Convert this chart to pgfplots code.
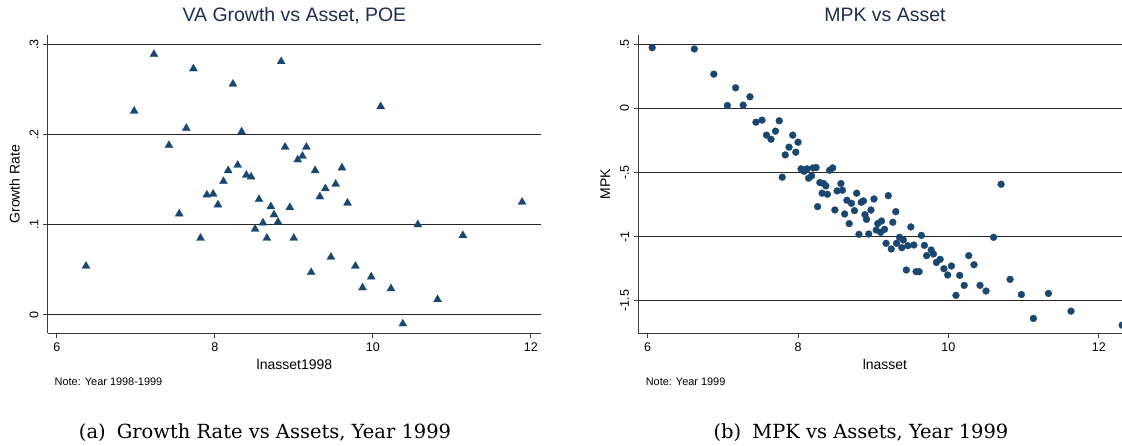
\documentclass[border=0pt]{standalone}
\usepackage{fontspec}
\usepackage{pgfplots}
\pgfplotsset{compat=1.18}
\newfontfamily\arial{Liberation Sans}
\newfontfamily\capfont{DejaVu Serif}
\definecolor{statanavy}{RGB}{26,71,111}
\definecolor{titlecol}{RGB}{30,45,80}
\definecolor{axcol}{RGB}{60,60,60}

\pgfplotsset{
  statapanel/.style={
    scale only axis,
    width=370pt, height=223.7pt,
    axis lines*=left,
    axis line style={axcol, line width=0.75pt, -},
    tick align=outside,
    major tick length=3.4pt,
    every tick/.style={axcol, line width=0.75pt},
    ymajorgrids,
    grid style={black!85, line width=0.6pt},
    tick label style={font=\arial\fontsize{9.4}{11}\selectfont},
    yticklabel style={rotate=90, anchor=south},
    xtick={6,8,10,12}, xticklabels={6,8,10,12},
    title style={at={(axis description cs:0.5,1)}, anchor=base, yshift=4.5pt,
      font=\arial\fontsize{14.6}{17}\selectfont, text=titlecol},
    every axis x label/.style={at={(axis description cs:0.5,0)}, yshift=-23pt,
      anchor=center, font=\arial\fontsize{10.5}{12}\selectfont},
    every axis y label/.style={at={(axis description cs:0,0.5)}, xshift=-24.8pt,
      rotate=90, anchor=center, font=\arial\fontsize{10.5}{12}\selectfont},
  }
}

\pgfplotstableread{
x y
7.23 0.289
7.73 0.273
8.23 0.256
8.84 0.281
6.98 0.226
10.10 0.231
7.64 0.207
8.34 0.203
7.42 0.188
8.89 0.186
9.16 0.186
9.05 0.172
9.11 0.176
8.29 0.166
8.17 0.160
9.27 0.160
9.61 0.163
8.40 0.155
8.46 0.153
8.11 0.148
9.40 0.140
9.53 0.145
7.90 0.133
7.98 0.134
9.33 0.131
7.55 0.112
8.04 0.122
8.56 0.128
8.71 0.120
8.75 0.111
8.95 0.119
9.68 0.124
11.89 0.125
8.61 0.102
8.80 0.103
10.57 0.100
8.51 0.095
7.82 0.085
8.66 0.085
9.00 0.085
11.14 0.088
6.37 0.054
9.47 0.064
9.78 0.054
9.22 0.047
9.98 0.042
9.87 0.030
10.23 0.029
10.82 0.017
10.38 -0.010
}\growthdata

\pgfplotstableread{
x y
6.06 0.474
6.62 0.464
6.88 0.268
7.17 0.161
7.06 0.023
7.27 0.026
7.36 0.091
7.44 -0.107
7.52 -0.091
7.75 -0.096
7.58 -0.208
7.64 -0.240
7.70 -0.177
7.93 -0.208
8.00 -0.263
7.88 -0.302
7.97 -0.341
7.83 -0.362
7.79 -0.536
8.04 -0.471
8.08 -0.490
8.12 -0.471
8.20 -0.464
8.24 -0.461
8.14 -0.544
8.18 -0.526
8.42 -0.482
8.46 -0.464
8.29 -0.578
8.34 -0.586
8.37 -0.604
8.57 -0.586
10.70 -0.591
8.32 -0.661
8.39 -0.669
8.52 -0.643
8.59 -0.638
8.78 -0.661
9.20 -0.680
9.01 -0.706
8.87 -0.721
8.65 -0.716
8.26 -0.766
8.49 -0.792
8.71 -0.740
8.75 -0.797
8.84 -0.732
8.62 -0.823
8.89 -0.828
8.91 -0.865
8.97 -0.792
9.30 -0.805
8.68 -0.898
9.06 -0.898
9.11 -0.878
9.26 -0.888
9.04 -0.948
9.10 -0.966
9.15 -0.943
9.50 -0.924
8.81 -0.982
8.94 -0.979
9.64 -0.990
9.35 -1.005
9.40 -1.026
9.17 -1.052
9.31 -1.052
9.38 -1.086
9.24 -1.096
9.46 -1.070
9.54 -1.065
9.68 -1.068
9.77 -1.104
9.80 -1.135
9.71 -1.148
9.89 -1.177
9.84 -1.201
10.27 -1.148
10.34 -1.219
10.04 -1.229
9.94 -1.250
9.44 -1.260
9.57 -1.273
9.61 -1.273
9.99 -1.299
10.15 -1.302
10.60 -1.005
10.21 -1.380
10.42 -1.380
10.50 -1.424
10.10 -1.458
10.82 -1.333
10.97 -1.451
11.33 -1.443
11.13 -1.638
11.63 -1.581
12.31 -1.690
}\mpkdata

\begin{document}
\begin{tikzpicture}
\useasboundingbox (0,0) rectangle (841.5pt,334.5pt);

\begin{axis}[statapanel,
  at={(35.8pt,84.5pt)}, anchor=south west,
  xmin=5.886, xmax=12.13, ymin=-0.0206, ymax=0.3103,
  ytick={0,0.1,0.2,0.3}, yticklabels={0,.1,.2,.3},
  title={VA Growth vs Asset, POE},
  xlabel={lnasset1998}, ylabel={Growth Rate}]
\addplot[only marks, mark=triangle*, mark size=3.5pt,
  mark options={fill=statanavy, draw=statanavy, line width=0.2pt}]
  table[x=x, y=y] {\growthdata};
\end{axis}

\begin{axis}[statapanel,
  at={(478.7pt,84.5pt)}, anchor=south west,
  xmin=5.875, xmax=12.436, ymin=-1.754, ymax=0.5725,
  ytick={-1.5,-1,-0.5,0,0.5}, yticklabels={-1.5,-1,-.5,0,.5},
  title={MPK vs Asset},
  xlabel={lnasset}, ylabel={MPK}]
\addplot[only marks, mark=*, mark size=2.6pt,
  mark options={fill=statanavy, draw=statanavy, line width=0.2pt}]
  table[x=x, y=y] {\mpkdata};
\end{axis}

\node[anchor=west, font=\arial\fontsize{8.2}{10}\selectfont] at (37.5pt,48pt) {Note: Year 1998-1999};
\node[anchor=west, font=\arial\fontsize{8.2}{10}\selectfont] at (480.8pt,48pt) {Note: Year 1999};

\node[anchor=base, font=\capfont\fontsize{14.6}{17}\selectfont] at (198.75pt,5.5pt) {(a)\hspace{0.25em} Growth Rate vs Assets, Year 1999};
\node[anchor=base, font=\capfont\fontsize{14.6}{17}\selectfont] at (645.75pt,5.5pt) {(b)\hspace{0.25em} MPK vs Assets, Year 1999};
\end{tikzpicture}
\end{document}
